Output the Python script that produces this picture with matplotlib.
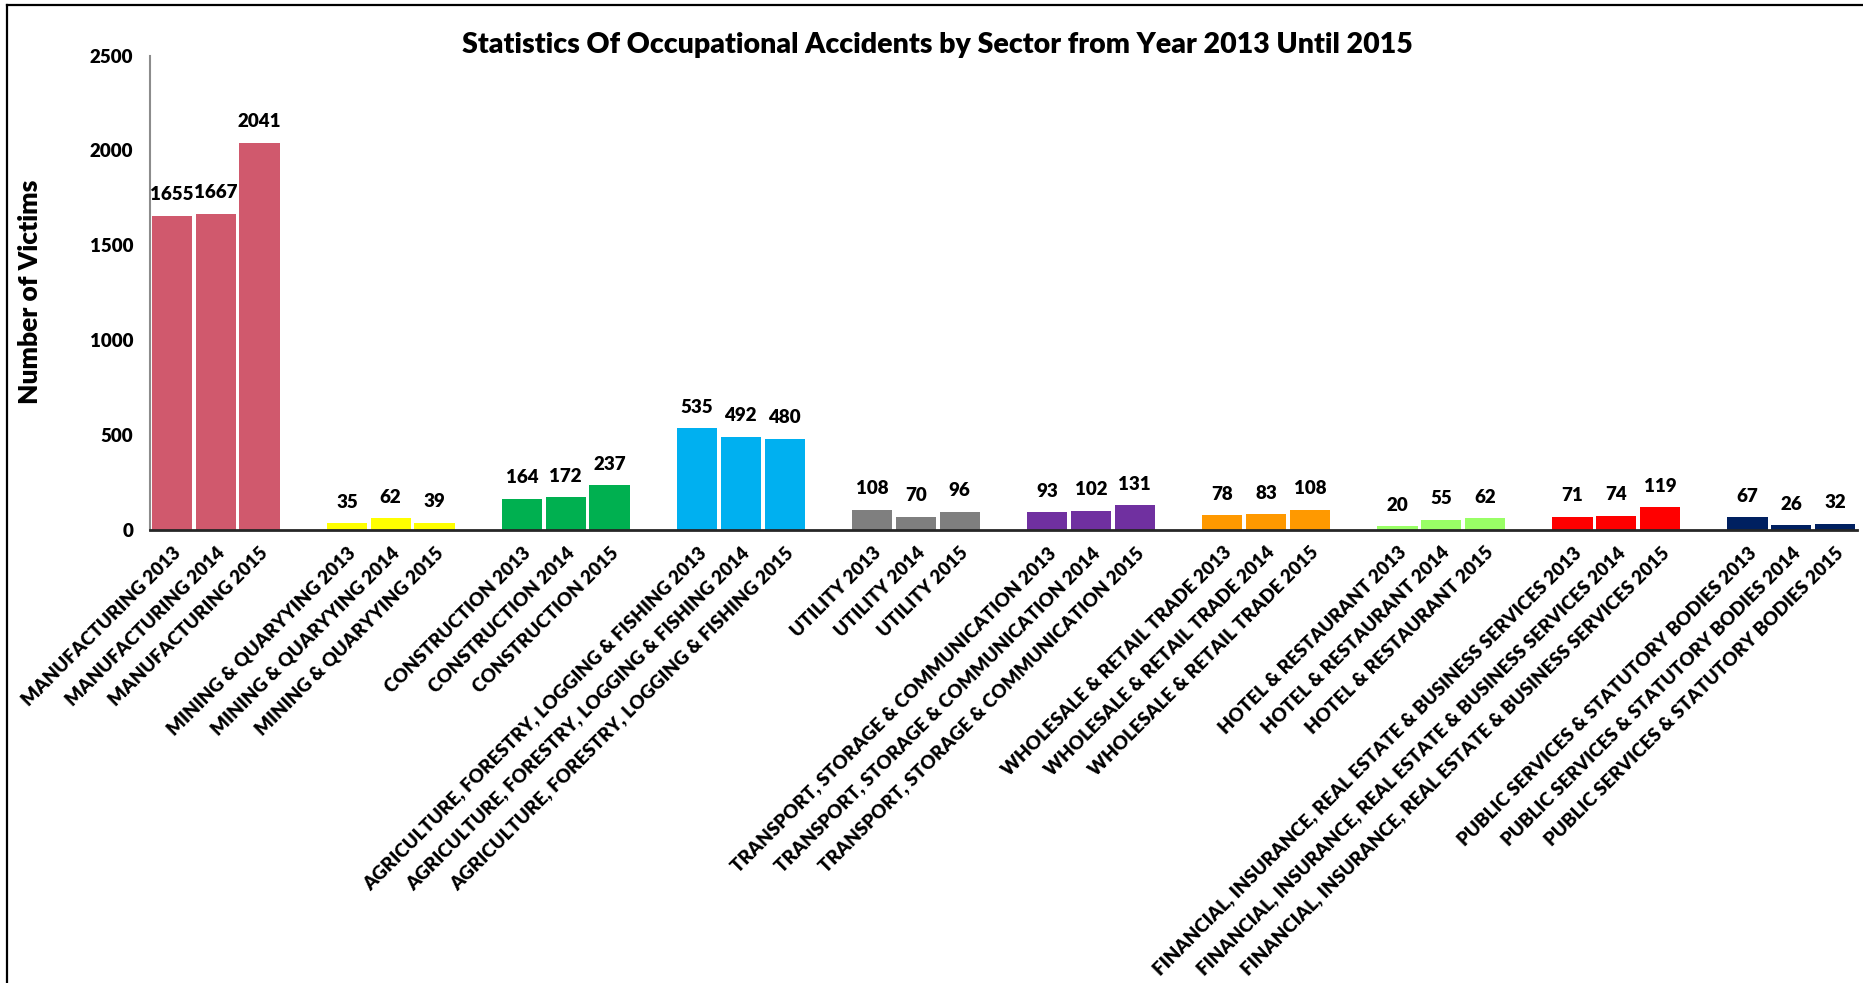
import numpy as np
from matplotlib import use
use('Agg')
from matplotlib import pyplot as plt
from matplotlib.lines import Line2D

#Data
sectors = ['MANUFACTURING', 'MINING & QUARYYING', 'CONSTRUCTION',
           'AGRICULTURE, FORESTRY, LOGGING & FISHING', 'UTILITY',
           'TRANSPORT, STORAGE & COMMUNICATION', 'WHOLESALE & RETAIL TRADE',
           'HOTEL & RESTAURANT', 'FINANCIAL, INSURANCE, REAL ESTATE & BUSINESS SERVICES',
           'PUBLIC SERVICES & STATUTORY BODIES']
years = ['2013', '2014', '2015']
victims_2013 = [1655, 35, 164, 535, 108, 93, 78, 20, 71, 67]
victims_2014 = [1667, 62, 172, 492, 70, 102, 83, 55, 74, 26]
victims_2015 = [2041, 39, 237, 480, 96, 131, 108, 62, 119, 32]
sector_colors = ['#D0596D', '#FFFF00', '#00B050', '#00B0F0', '#7F7F7F',
                 '#7030A0', '#FF9900', '#99FF66', '#FF0000', '#002060']

W = 'heavy'
plt.rcParams['font.family'] = ['Lato', 'DejaVu Sans']
plt.rcParams['font.weight'] = W

fig = plt.figure(figsize=(18.63, 9.83), dpi=100)
ax = fig.add_axes([150/1863, 1-530/983, (1857-150)/1863, (530-55.6)/983])

#Each sector gets 3 slots plus one blank slot after it
positions = []
labels = []
values = []
colors = []
for g, name in enumerate(sectors):
    for i, vals in enumerate([victims_2013, victims_2014, victims_2015]):
        positions.append(g*4 + i)
        labels.append(name + ' ' + years[i])
        values.append(vals[g])
        colors.append(sector_colors[g])

bars = ax.bar(positions, values, width=0.92, color=colors)
for b, v in zip(bars, values):
    ax.annotate(str(v), (b.get_x() + b.get_width()/2, v), xytext=(0, 9),
                textcoords='offset points', ha='center', va='bottom',
                fontsize=13.5, fontweight=W)

ax.set_xlim(-0.5, len(sectors)*4 - 1.5)
ax.set_ylim(0, 2500)
ax.set_yticks(range(0, 2501, 500))
ax.set_xticks(positions)
ax.set_xticklabels(labels, rotation=45, ha='right', va='top',
                   rotation_mode='anchor', fontsize=13.5, fontweight=W)
ax.tick_params(axis='both', length=0, labelsize=13.5)
ax.tick_params(axis='x', pad=10)
ax.tick_params(axis='y', pad=12)
for t in ax.get_yticklabels():
    t.set_fontweight(W)

ax.spines['top'].set_visible(False)
ax.spines['right'].set_visible(False)
ax.spines['left'].set_color('#8C8C8C')
ax.spines['left'].set_linewidth(1.5)
ax.spines['bottom'].set_color('#262626')
ax.spines['bottom'].set_linewidth(2)

fig.text(30/1863, 1-292/983, 'Number of Victims', rotation=90, ha='center',
         va='center', fontsize=19, fontweight=W)
fig.text(937/1863, 1-45/983, 'Statistics Of Occupational Accidents by Sector from Year 2013 Until 2015',
         ha='center', va='center', fontsize=20.5, fontweight=W)

#Border on left and top like the original screenshot
fig.add_artist(Line2D([7/1863, 7/1863], [0, 1-5/983], color='black', linewidth=1.6))
fig.add_artist(Line2D([7/1863, 1], [1-5/983, 1-5/983], color='black', linewidth=1.6))

plt.savefig('out.png', dpi=100)
